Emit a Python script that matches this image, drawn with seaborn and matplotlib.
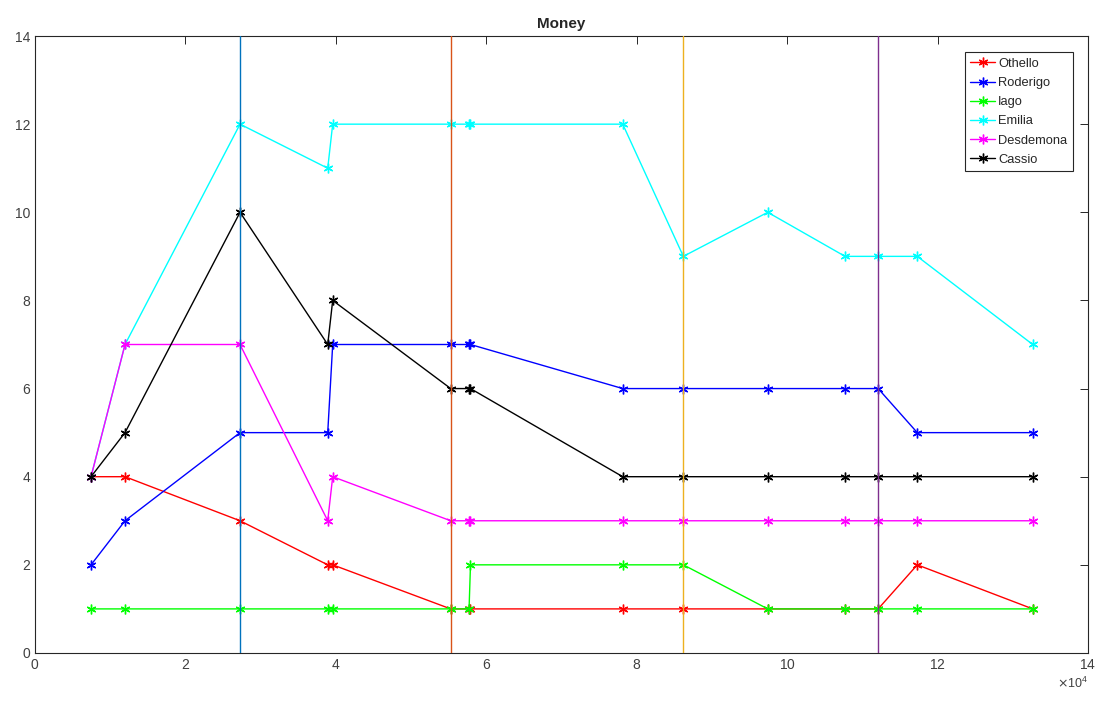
import matplotlib
matplotlib.use("Agg")
import matplotlib.pyplot as plt
import seaborn as sns
import pandas as pd
from matplotlib.ticker import ScalarFormatter

# ---- data ----
x_pos = [7450, 11970, 27260, 38920, 39580, 55270, 57710, 57900, 78140,
         86200, 97420, 107700, 112100, 117300, 132650]
othello   = [4, 4, 3, 2, 2, 1, 1, 1, 1, 1, 1, 1, 1, 2, 1]
roderigo  = [2, 3, 5, 5, 7, 7, 7, 7, 6, 6, 6, 6, 6, 5, 5]
iago      = [1, 1, 1, 1, 1, 1, 1, 2, 2, 2, 1, 1, 1, 1, 1]
emilia    = [4, 7, 12, 11, 12, 12, 12, 12, 12, 9, 10, 9, 9, 9, 7]
desdemona = [4, 7, 7, 3, 4, 3, 3, 3, 3, 3, 3, 3, 3, 3, 3]
cassio    = [4, 5, 10, 7, 8, 6, 6, 6, 4, 4, 4, 4, 4, 4, 4]
names = ["Othello", "Roderigo", "Iago", "Emilia", "Desdemona", "Cassio"]
act_breaks = [27260, 55270, 86200, 112100]

series = [othello, roderigo, iago, emilia, desdemona, cassio]
colors = ["#FF0000", "#0000FF", "#00FF00", "#00FFFF", "#FF00FF", "#000000"]
vline_colors = ["#0072BD", "#D95319", "#EDB120", "#7E2F8E"]

rows = []
for n, vals in zip(names, series):
    for xv, yv in zip(x_pos, vals):
        rows.append({"x": xv, "y": yv, "who": n})
df = pd.DataFrame(rows)

sns.set_style("white")
plt.rcParams["font.family"] = ["Liberation Sans", "DejaVu Sans"]

fig = plt.figure(figsize=(10.97, 7.05), dpi=100)
ax = fig.add_axes([0.0319, 0.0738, 0.9599, 0.8751])

ast = (6, 2, 0)
for n, c in zip(names, colors):
    sub = df[df["who"] == n]
    sns.lineplot(data=sub, x="x", y="y", ax=ax, color=c, marker=ast,
                 markersize=7, markeredgewidth=1.0, markeredgecolor=c,
                 linewidth=1.0, sort=False, estimator=None, label=n)

for xv, c in zip(act_breaks, vline_colors):
    ax.axvline(xv, color=c, linewidth=1.0, zorder=3)

ax.set_xlim(0, 140000)
ax.set_ylim(0, 14)
ax.set_xticks(range(0, 140001, 20000))
ax.set_yticks(range(0, 15, 2))
fmt = ScalarFormatter(useMathText=True)
fmt.set_powerlimits((4, 4))
ax.xaxis.set_major_formatter(fmt)
ax.set_xlabel("")
ax.set_ylabel("")
ax.set_title("Money", fontsize=11, fontweight="bold", pad=6)

gray = "#262626"
for s in ax.spines.values():
    s.set_color(gray)
    s.set_linewidth(0.8)
ax.tick_params(direction="in", top=True, right=True, length=6, width=0.7,
               colors=gray, labelsize=10, labelcolor="#404040")
ax.xaxis.get_offset_text().set_fontsize(9)
ax.xaxis.get_offset_text().set_color("#404040")

leg = ax.legend(loc="upper right", bbox_to_anchor=(0.9858, 0.974), fontsize=9.3,
                frameon=True, fancybox=False, framealpha=1, edgecolor=gray,
                borderpad=0.45, labelspacing=0.55, handlelength=1.9,
                handletextpad=0.25, borderaxespad=0.0)
leg.get_frame().set_linewidth(0.8)

fig.savefig("out.png", dpi=100)
